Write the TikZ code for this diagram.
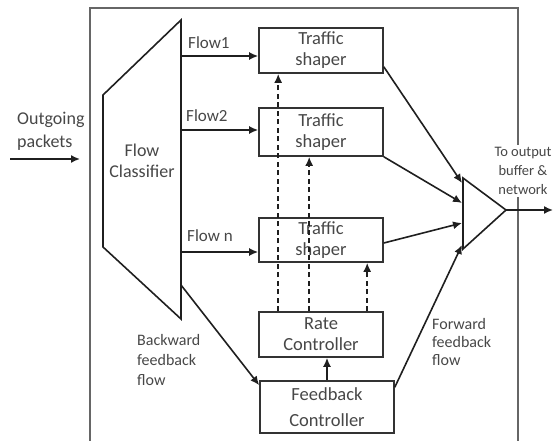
\documentclass[tikz,border=0pt]{standalone}
\usepackage{fontspec}
\setmainfont{Carlito}
\usetikzlibrary{arrows.meta,calc}
\begin{document}
\begin{tikzpicture}[x=1pt,y=-1pt,
  txt/.style={text=black!72, font=\fontsize{15}{19}\selectfont, inner sep=0pt},
  box/.style={txt, font=\fontsize{18.5}{21}\selectfont, draw=black!80, line width=1.6pt, fill=white, minimum width=124pt, minimum height=45pt, align=center},
  ln/.style={line width=1.6pt, draw=black!88},
  arr/.style={ln, -{Latex[length=9pt,width=8pt]}},
  dsh/.style={arr, line width=1.8pt, dash pattern=on 5pt off 3.5pt}]
\useasboundingbox (0,0) rectangle (555,441);
% outer frame
\draw[line width=1.6pt, black!60] (90,441) -- (90,8) -- (518,8) -- (518,441);
% flow classifier
\draw[ln] (181,20) -- (181,319) -- (103,247) -- (103,95) -- cycle;
\node[txt, align=center, font=\fontsize{18}{21}\selectfont] (fc) at (142,161) {Flow\\Classifier};
\coordinate (f1) at (181,56);
\coordinate (f2) at (181,130);
\coordinate (fn) at (181,252);
\coordinate (bk) at (181,285);
% boxes
\node[box] (s1) at (321,50.5) {Traffic\\shaper};
\node[box, minimum height=48pt] (s2) at (321,132) {Traffic\\shaper};
\node[box, minimum height=44pt] (s3) at (321,240) {Traffic\\shaper};
\node[box] (rc) at (321,334.5) {Rate\\Controller};
\node[box, minimum width=134pt, minimum height=52pt, font=\fontsize{18.5}{26}\selectfont] (fb) at (327,407) {Feedback\\Controller};
% flow arrows
\draw[arr] (f1) -- (f1 -| s1.west);
\draw[arr] (f2) -- (f2 -| s2.west);
\draw[arr] (fn) -- (fn -| s3.west);
\node[txt, anchor=west, font=\fontsize{17}{20}\selectfont] (l1) at (188,43) {Flow1};
\node[txt, anchor=west, font=\fontsize{17}{20}\selectfont] (l2) at (186,116) {Flow2};
\node[txt, anchor=west, font=\fontsize{17}{20}\selectfont] (ln) at (187,236) {Flow n};
% dashed rate control arrows
\draw[dsh] ($(rc.north west)+(20,0)$) -- ($(s1.south west)+(20,0)$);
\draw[dsh] ($(rc.north west)+(51,0)$) -- ($(s2.south west)+(51,0)$);
\draw[dsh] ($(rc.north west)+(109,0)$) -- ($(s3.south west)+(109,0)$);
\draw[arr] (fb.north) -- (fb.north |- rc.south);
% backward feedback
\draw[arr] (bk) -- ([yshift=-5pt]fb.north west);
\node[txt, align=left, anchor=north west, font=\fontsize{16}{20}\selectfont] (bl) at (137,334) {Backward\\feedback\\flow};
% output combiner
\coordinate (ta) at (463,178);
\coordinate (tb) at (463,249);
\coordinate (tp) at (506,210);
\draw[ln] (ta) -- (tp) -- (tb) -- cycle;
\coordinate (t1) at (462,183);
\coordinate (t2) at (462,203);
\coordinate (t3) at (462,223);
\coordinate (t4) at (462,245);
\draw[arr] ([yshift=7pt]s1.south east) -- (t1);
\draw[arr] (s2.south east) -- (t2);
\draw[arr] ([yshift=-3pt]s3.east) -- (t3);
\draw[arr] ([yshift=-7pt]fb.north east) -- (t4);
\node[txt, align=left, anchor=north west, font=\fontsize{16}{18}\selectfont] (fl) at (432,318) {Forward\\feedback\\flow};
\coordinate (out) at (553,210);
\draw[arr] (tp) -- (out);
\node[txt, fill=white, align=center, inner sep=2pt, font=\fontsize{14.5}{19}\selectfont] (to) at (523,171) {To output\\buffer \&\\network};
% input
\node[txt, align=left, anchor=north west, font=\fontsize{18}{23}\selectfont] (og) at (17,112) {Outgoing\\packets};
\coordinate (in0) at (10,159);
\coordinate (in1) at (80,159);
\draw[arr] (in0) -- (in1);
\end{tikzpicture}
\end{document}
